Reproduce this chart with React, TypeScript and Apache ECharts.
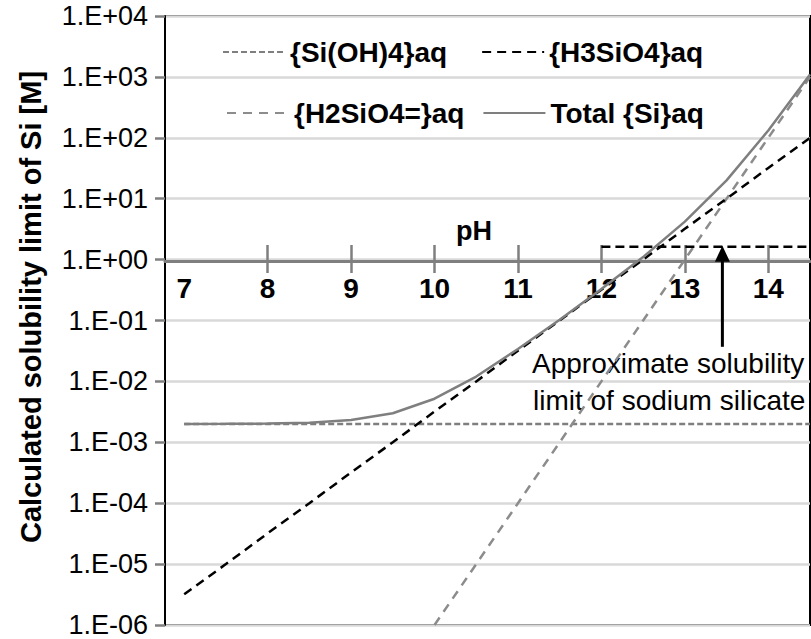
import React, { useEffect, useRef } from 'react';
import * as echarts from 'echarts';

// pH sampling points (x values)
const pHValues = [7, 7.5, 8, 8.5, 9, 9.5, 10, 10.5, 11, 11.5, 12, 12.5, 13, 13.5, 14, 14.5];
// Calculated solubility limits [M]
const siOH4 = [0.002, 0.002, 0.002, 0.002, 0.002, 0.002, 0.002, 0.002, 0.002, 0.002, 0.002, 0.002, 0.002, 0.002, 0.002, 0.002];
const h3SiO4 = [3.2e-6, 1e-5, 3.2e-5, 1e-4, 3.2e-4, 1e-3, 3.2e-3, 0.01, 0.032, 0.1, 0.32, 1, 3.2, 10, 32, 100];
const h2SiO4 = [null, null, null, null, null, null, 1e-6, 1e-5, 1e-4, 1e-3, 0.01, 0.1, 1, 10, 100, 1000];
const totalSi = [0.002, 0.00201, 0.00203, 0.0021, 0.00232, 0.003, 0.0052, 0.012, 0.034, 0.103, 0.33, 1.1, 4.2, 20, 132, 1100];

const seriesNames = ['{Si(OH)4}aq', '{H3SiO4}aq', '{H2SiO4=}aq', 'Total {Si}aq'];
const yTickLabels = ['1.E-06', '1.E-05', '1.E-04', '1.E-03', '1.E-02', '1.E-01', '1.E+00', '1.E+01', '1.E+02', '1.E+03', '1.E+04'];
const xTickLabelValues = [7, 8, 9, 10, 11, 12, 13, 14];
const xTickMarkValues = [8, 9, 10, 11, 12, 13, 14];

// Sodium silicate solubility limit annotation
const limitPH = [12, 14.5];
const limitValue = 1.63;
const arrowPH = 13.45;
const arrowFrom = 0.037;
const arrowTo = 1.25;

const FONT = "'Liberation Sans', Arial, sans-serif";

function pairs(xs: number[], ys: (number | null)[]) {
  const out: [number, number][] = [];
  xs.forEach((x, i) => {
    const y = ys[i];
    if (y !== null && y !== undefined) out.push([x, y]);
  });
  return out;
}

export default function App() {
  const ref = useRef<HTMLDivElement>(null);

  useEffect(() => {
    if (!ref.current) return;
    const chart = echarts.init(ref.current, null, { renderer: 'svg' });
    const gray = '#7f7f7f';
    const xMin = 6.77;
    const xMax = 14.5;
    const tickStyle = { color: gray, width: 2.5 };
    const legendText = { fontFamily: FONT, fontSize: 28, fontWeight: 'bold', color: '#000', lineHeight: 30 };

    chart.setOption({
      animation: false,
      backgroundColor: '#fff',
      grid: {
        left: 165,
        top: 16,
        right: 1,
        bottom: 14,
        show: true,
        borderColor: '#000',
        borderWidth: 2,
        backgroundColor: 'transparent',
      },
      legend: [
        {
          data: [seriesNames[0], seriesNames[1]],
          left: 217,
          top: 32,
          itemWidth: 62,
          itemHeight: 14,
          itemGap: 34,
          itemStyle: { opacity: 0 },
          textStyle: legendText,
          selectedMode: false,
        },
        {
          data: [seriesNames[2], seriesNames[3]],
          left: 221,
          top: 93,
          itemWidth: 62,
          itemHeight: 14,
          itemGap: 18,
          itemStyle: { opacity: 0 },
          textStyle: legendText,
          selectedMode: false,
        },
      ],
      xAxis: [
        {
          type: 'value',
          min: xMin,
          max: xMax,
          show: false,
          splitLine: { show: false },
        },
        {
          type: 'value',
          min: xMin,
          max: xMax,
          position: 'bottom',
          offset: -364,
          axisLine: { show: true, onZero: false, lineStyle: { color: gray, width: 3 } },
          axisTick: { show: true, inside: false, length: 12, customValues: xTickMarkValues, lineStyle: tickStyle },
          axisLabel: {
            customValues: xTickLabelValues,
            margin: 13,
            fontFamily: FONT,
            fontSize: 28,
            fontWeight: 'bold',
            color: '#000',
            formatter: (v: number) => String(v),
          },
          splitLine: { show: false },
        },
        {
          type: 'value',
          min: xMin,
          max: xMax,
          position: 'top',
          offset: -245,
          axisLine: { show: false, onZero: false },
          axisTick: { show: true, inside: false, length: 16, customValues: xTickMarkValues, lineStyle: tickStyle },
          axisLabel: { show: false },
          splitLine: { show: false },
        },
      ],
      yAxis: {
        type: 'log',
        logBase: 10,
        min: 1e-6,
        max: 1e4,
        interval: 1,
        splitNumber: 10,
        axisLine: { show: true, lineStyle: { color: '#000', width: 2 } },
        axisTick: { show: true, length: 10, lineStyle: { color: gray, width: 2.5 } },
        axisLabel: {
          margin: 17,
          fontFamily: FONT,
          fontSize: 27,
          color: '#000',
          formatter: (v: number) => yTickLabels[Math.round(Math.log10(v)) + 6],
        },
        splitLine: { show: true, lineStyle: { color: '#d9d9d9', width: 2.5 } },
        minorTick: { show: false },
      },
      series: [
        {
          name: seriesNames[0],
          type: 'line',
          data: pairs(pHValues, siOH4),
          symbol: 'none',
          lineStyle: { color: gray, width: 2.5, type: [6, 3] },
          itemStyle: { color: gray },
          z: 3,
        },
        {
          name: seriesNames[1],
          type: 'line',
          data: pairs(pHValues, h3SiO4),
          symbol: 'none',
          lineStyle: { color: '#000', width: 2.5, type: [9, 6] },
          itemStyle: { color: '#000' },
          z: 4,
        },
        {
          name: seriesNames[2],
          type: 'line',
          data: pairs(pHValues, h2SiO4),
          symbol: 'none',
          lineStyle: { color: '#8c8c8c', width: 2.5, type: [9, 7] },
          itemStyle: { color: '#8c8c8c' },
          z: 3,
        },
        {
          name: seriesNames[3],
          type: 'line',
          data: pairs(pHValues, totalSi),
          symbol: 'none',
          lineStyle: { color: gray, width: 2.5, type: 'solid' },
          itemStyle: { color: gray },
          z: 5,
        },
        {
          name: 'limit',
          type: 'line',
          data: limitPH.map((x) => [x, limitValue]),
          symbol: 'none',
          lineStyle: { color: '#000', width: 2.5, type: [9, 5] },
          itemStyle: { color: '#000' },
          silent: true,
          z: 4,
        },
        {
          name: 'arrow',
          type: 'line',
          showSymbol: true,
          data: [
            { value: [arrowPH, arrowFrom], symbol: 'none' },
            { value: [arrowPH, arrowTo], symbol: 'triangle', symbolSize: [15, 16] },
          ],
          lineStyle: { color: '#000', width: 3 },
          itemStyle: { color: '#000' },
          silent: true,
          z: 6,
        },
      ],
      graphic: [
        {
          type: 'text',
          x: 31,
          y: 307,
          rotation: Math.PI / 2,
          style: {
            text: 'Calculated solubility limit of Si [M]',
            fontFamily: FONT,
            fontSize: 29,
            fontWeight: 'bold',
            fill: '#000',
            align: 'center',
            verticalAlign: 'middle',
          },
        },
        {
          type: 'text',
          x: 474,
          y: 231,
          style: {
            text: 'pH',
            fontFamily: FONT,
            fontSize: 27,
            fontWeight: 'bold',
            fill: '#000',
            align: 'center',
            verticalAlign: 'middle',
          },
        },
        {
          type: 'text',
          x: 532,
          y: 363,
          style: {
            text: 'Approximate solubility',
            fontFamily: FONT,
            fontSize: 28,
            fill: '#000',
            align: 'left',
            verticalAlign: 'middle',
          },
        },
        {
          type: 'text',
          x: 533,
          y: 400,
          style: {
            text: 'limit of sodium silicate',
            fontFamily: FONT,
            fontSize: 28,
            fill: '#000',
            align: 'left',
            verticalAlign: 'middle',
          },
        },
      ],
    });

    return () => chart.dispose();
  }, []);

  return (
    <div
      ref={ref}
      style={{ position: 'fixed', left: 0, top: 0, width: 811, height: 639, background: '#fff' }}
    />
  );
}
